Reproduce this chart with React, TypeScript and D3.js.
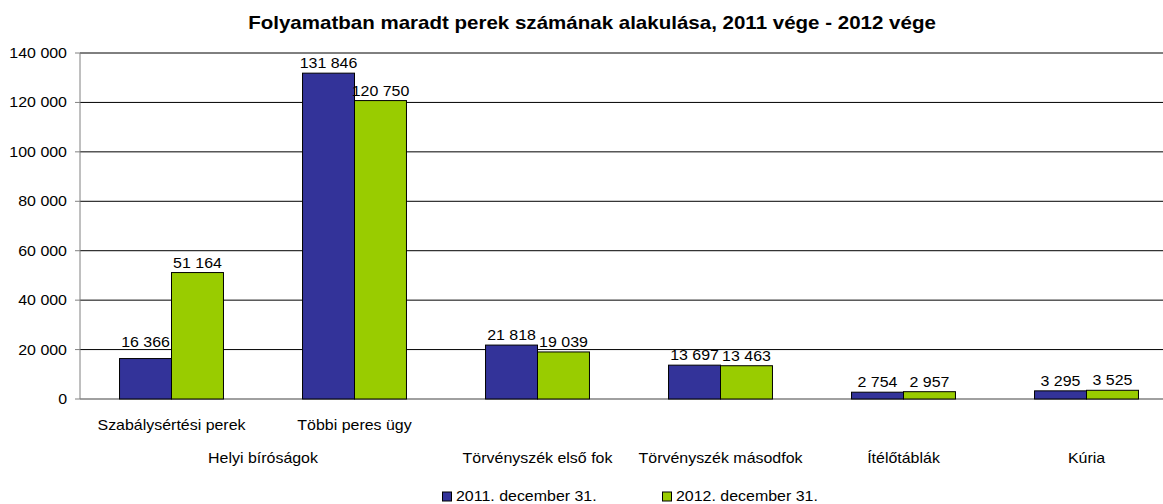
import React from 'react';
import * as d3 from 'd3';

// --- adatok ---
const courtLevels = [
  'Helyi bíróságok',
  'Helyi bíróságok',
  'Törvényszék első fok',
  'Törvényszék másodfok',
  'Ítélőtáblák',
  'Kúria',
];
const caseTypes = ['Szabálysértési perek', 'Többi peres ügy', '', '', '', ''];
const seriesNames = ['2011. december 31.', '2012. december 31.'];
const values2011 = [16366, 131846, 21818, 13697, 2754, 3295];
const values2012 = [51164, 120750, 19039, 13463, 2957, 3525];
const yTicks = [0, 20000, 40000, 60000, 80000, 100000, 120000, 140000];

const TITLE = 'Folyamatban maradt perek számának alakulása, 2011 vége - 2012 vége';
const COLORS = ['#333399', '#99CC00'];
const FONT = '"Liberation Sans", Arial, sans-serif';
const STRETCH = 1.14; // az eredeti kép vízszintesen nyújtott betűi

const huFormat = d3.formatLocale({
  decimal: ',',
  thousands: ' ',
  grouping: [3],
  currency: ['', ''],
}).format(',d');

// vízszintesen nyújtott szöveg
const T = ({ x, y, anchor = 'middle', size = 14, bold = false, dy, children }: any) => (
  <text transform={`translate(${x},${y}) scale(${STRETCH},1)`} dy={dy} textAnchor={anchor}
    fontSize={size} fontWeight={bold ? 'bold' : 'normal'} fill="#000">
    {children}
  </text>
);

const App = () => {
  const width = 1163, height = 504;
  const margin = { top: 53, left: 80, bottom: 105 };
  const plotRight = 1178; // a rajzterület túlnyúlik a képen
  const y0 = height - margin.bottom;

  const idx = courtLevels.map((_, i) => String(i));
  const x = d3.scaleBand().domain(idx).range([margin.left, plotRight])
    .paddingInner(0.432).paddingOuter(0.216);
  const xs = d3.scaleBand().domain(seriesNames).range([0, x.bandwidth()]);
  const y = d3.scaleLinear().domain([0, 140000]).range([y0, margin.top]);

  const series = [values2011, values2012];

  // felirat alapvonala: ha rácsvonalba ütközne, fölé kerül
  const labelY = (v: number) => {
    const base = y(v) - 5;
    const hit = yTicks.find(t => t > 0 && y(t) > base - 9 && y(t) < base + 1);
    return hit !== undefined ? y(hit) - 3 : base;
  };

  // külső szintű feliratok csoportosítása
  const groups: { label: string; from: number; to: number }[] = [];
  courtLevels.forEach((c, i) => {
    const last = groups[groups.length - 1];
    if (last && last.label === c) last.to = i;
    else groups.push({ label: c, from: i, to: i });
  });
  const center = (i: number) => (x(String(i)) as number) + x.bandwidth() / 2;

  return (
    <svg width={width} height={height}
      style={{ position: 'absolute', left: 0, top: 0, background: '#fff', fontFamily: FONT }}>
      <T x={592} y={29} size={18} bold>{TITLE}</T>

      {/* rácsvonalak és y tengely */}
      {yTicks.map(t => (
        <g key={t}>
          {t > 0 && <line x1={margin.left} x2={width} y1={y(t)} y2={y(t)} stroke="#000" strokeWidth={1} />}
          <line x1={margin.left - 5} x2={margin.left} y1={y(t)} y2={y(t)} stroke="#808080" />
          <T x={margin.left - 13} y={y(t)} dy="0.36em" anchor="end">{huFormat(t)}</T>
        </g>
      ))}
      <line x1={margin.left} x2={margin.left} y1={margin.top} y2={y0} stroke="#808080" />
      <line x1={margin.left} x2={width} y1={y0} y2={y0} stroke="#808080" strokeWidth={1.5} />

      {/* oszlopok */}
      {series.map((vals, s) => vals.map((v, i) => {
        const bx = (x(String(i)) as number) + (xs(seriesNames[s]) as number);
        return (
          <g key={`${s}-${i}`}>
            <rect x={bx} y={y(v)} width={xs.bandwidth()} height={y0 - y(v)}
              fill={COLORS[s]} stroke="#000" strokeWidth={1} />
            <T x={bx + xs.bandwidth() / 2} y={labelY(v)}>{huFormat(v)}</T>
          </g>
        );
      }))}

      {/* kategória feliratok */}
      {caseTypes.map((c, i) => c && (
        <T key={c} x={center(i)} y={430}>{c}</T>
      ))}
      {groups.map(g => (
        <T key={g.label} x={(center(g.from) + center(g.to)) / 2} y={463}>{g.label}</T>
      ))}

      {/* jelmagyarázat */}
      {seriesNames.map((n, s) => (
        <g key={n} transform={`translate(${442 + s * 220}, 496.5)`}>
          <rect x={0.5} y={-4.5} width={9} height={9} fill={COLORS[s]} stroke="#000" strokeWidth={1} />
          <T x={14} y={4.5} anchor="start">{n}</T>
        </g>
      ))}
    </svg>
  );
};

export default App;
